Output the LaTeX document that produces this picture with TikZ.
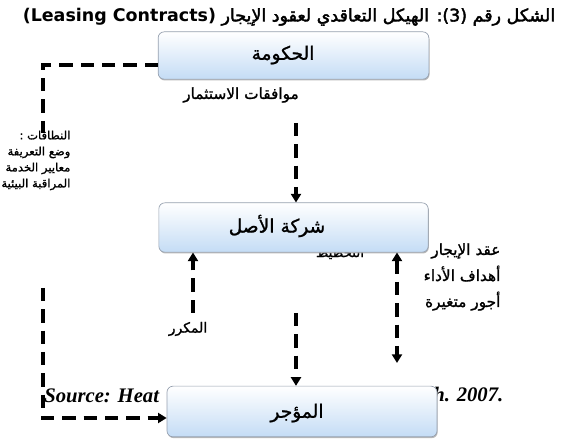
\documentclass[tikz,border=0pt]{standalone}
\usepackage{fontspec}
\setmainfont{DejaVu Sans}
\newfontfamily\ar[Script=Arabic,FakeBold=1.2]{DejaVu Sans}
\newfontfamily\arb[Script=Arabic,FakeBold=2.2]{DejaVu Sans}
\newfontfamily\lat{DejaVu Sans Bold}
\newfontfamily\srcfont{Liberation Serif Bold Italic}
\TeXXeTstate=1
\usetikzlibrary{arrows.meta,shadows}
\definecolor{boxblue}{RGB}{196,220,245}
\definecolor{boxline}{RGB}{150,160,175}
\newcommand{\AR}[1]{\beginR #1\endR}
\begin{document}
\begin{tikzpicture}[x=0.75pt,y=-0.75pt,
  boxst/.style={rounded corners=4.5pt, draw=boxline, line width=0.5pt,
     top color=white, bottom color=boxblue, inner sep=0pt,
     drop shadow={shadow xshift=0.5pt,shadow yshift=-1pt,fill=gray!70,opacity=0.8}},
  boxtext/.style={inner sep=0pt, font=\ar\fontsize{14}{16}\selectfont},
  lbl/.style={inner sep=1pt, font=\ar\fontsize{10.5}{12}\selectfont},
  conn/.style={line width=2.3pt, dash pattern=on 10pt off 6pt},
  tip/.style={-{Triangle[length=6.5pt,width=7.5pt]}},
  src/.style={inner sep=0pt, font=\srcfont\fontsize{15.5}{17}\selectfont}
]
\useasboundingbox (0,0) rectangle (568,441);

% title
\node[inner sep=0pt, font=\arb\fontsize{13.1}{15}\selectfont] (title) at (289,17)
  {\beginR الشكل رقم (3): الهيكل التعاقدي لعقود الإيجار \beginL{\lat (Leasing Contracts)}\endL\endR};

% labels partly covered by boxes
\node[lbl, font=\ar\fontsize{11.5}{13}\selectfont] (inv) at (241,95) {\AR{موافقات الاستثمار}};
\node[lbl, font=\ar\fontsize{10}{12}\selectfont] (plan) at (340,253) {\AR{التخطيط}};
\node[src, anchor=base west] (srcL) at (44,403) {Source: Heat};
\node[src, anchor=base west] (srcR) at (433,402) {h. 2007.};

% other labels
\node[lbl, align=right, anchor=north east, font=\ar\fontsize{8.7}{12}\selectfont] (scope) at (72,129)
  {\AR{النطاقات :}\\\AR{وضع التعريفة}\\\AR{معايير الخدمة}\\\AR{المراقبة البيئية}};
\node[lbl] (rep) at (188,329) {\AR{المكرر}};
\node[lbl, align=right, font=\ar\fontsize{11.5}{19.5}\selectfont] (lease) at (462,277)
  {\AR{عقد الإيجار}\\\AR{أهداف الأداء}\\\AR{أجور متغيرة}};

% boxes
\node[boxst, minimum width=203pt, minimum height=35.5pt] (gov) at (293.5,55.5) {};
\node[boxst, minimum width=202pt, minimum height=37pt] (asset) at (293.5,227.5) {};
\node[boxst, minimum width=202.5pt, minimum height=38pt] (lessee) at (302,411.5) {};
\node[boxtext] (govt) at (283,55) {\AR{الحكومة}};
\node[boxtext] (assett) at (277,226) {\AR{شركة الأصل}};
\node[boxtext] (lesseet) at (297,413) {\AR{المؤجر}};

% coordinates for free ends
\coordinate (c1) at (43,65);
\coordinate (g1) at (43,133);
\coordinate (g2) at (43,288);
\coordinate (c2) at (43,418);
\coordinate (d1) at (296,123);
\coordinate (u1) at (193,313);
\coordinate (d2) at (296,313);
\coordinate (r1) at (397,363);

% connectors
\draw[conn] (c1 -| gov.west) -- (c1) -- (g1);
\draw[conn, tip] (g2) -- (c2) -- (c2 -| lessee.west);
\draw[conn, tip] (d1) -- (d1 |- asset.north);
\draw[conn, tip] (u1) -- (u1 |- asset.south);
\draw[conn, tip] (d2) -- (d2 |- lessee.north);
\draw[conn, {Triangle[length=6.5pt,width=7.5pt]}-{Triangle[length=6.5pt,width=7.5pt]}] (r1 |- asset.south) -- (r1);
\end{tikzpicture}
\end{document}
